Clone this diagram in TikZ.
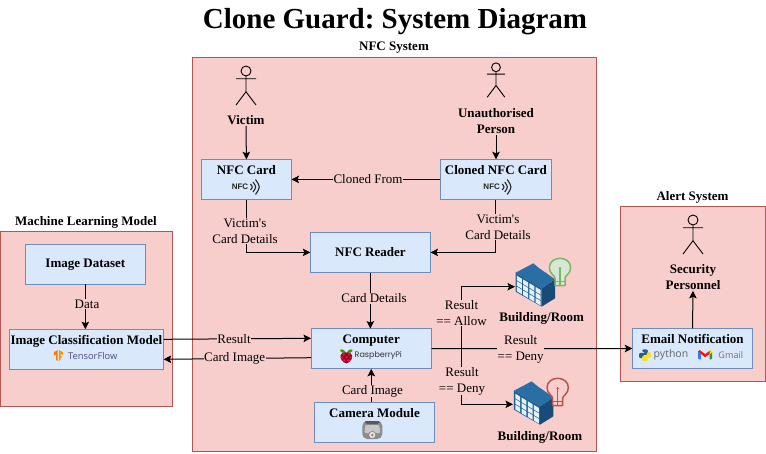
\documentclass[tikz,border=0pt]{standalone}
\usepackage{fontspec}
\setmainfont{Liberation Serif}[Ligatures=TeXOff]
\newfontfamily\liberasans{Liberation Sans}
\newfontfamily\opensansf{Open Sans}
\newfontfamily\poppinsf{Poppins}
\usetikzlibrary{arrows.meta,calc}
\definecolor{pinkfill}{HTML}{F8CECC}
\definecolor{pinkline}{HTML}{B85450}
\definecolor{bluefill}{HTML}{DAE8FC}
\definecolor{blueline}{HTML}{6C8EBF}
\definecolor{greenfill}{HTML}{D5E8D4}
\definecolor{greenline}{HTML}{82B366}
\definecolor{roofblue}{HTML}{2A6EA6}
\definecolor{faceblue}{HTML}{1F5F93}
\definecolor{sideblue}{HTML}{184B75}
\definecolor{winblue}{HTML}{E6F0F8}
\def\pxu{0.75pt}
\frenchspacing
\tikzset{
  region/.style={draw=pinkline,fill=pinkfill,line width=1*\pxu,inner sep=0pt,outer sep=0pt},
  bluebox/.style={draw=blueline,fill=bluefill,line width=1*\pxu,inner sep=0pt,outer sep=0pt,minimum width=#1*\pxu,minimum height=40.2*\pxu,align=center,font=\frenchspacing\fontsize{9.75}{14.5}\selectfont\bfseries},
  headtxt/.style={inner sep=1*\pxu,align=center,font=\frenchspacing\fontsize{9.75}{12}\selectfont\bfseries},
  edgetxt/.style={fill=pinkfill,inner sep=0.5*\pxu,align=center,font=\frenchspacing\fontsize{9.75}{12}\selectfont},
  conn/.style={line width=1*\pxu,black},
  arrowconn/.style={conn,-{Stealth[length=7.5*\pxu,width=7.5*\pxu,inset=1.5*\pxu]}},
  pics/actor/.style={code={
    \draw[line width=0.9*\pxu,black] (0,0) circle (5);
    \draw[line width=0.9*\pxu,black] (0,5) -- (0,20.7) (-10,7.7) -- (10,7.7) (-10,34) -- (0,20.7) -- (10,34);
  }},
  pics/nfclogo/.style={code={
    \node[inner sep=0pt,text=black!85,font=\fontsize{6}{7}\selectfont\liberasans\bfseries] (-t) at (0,0) {NFC};
    \draw[line width=1.1*\pxu,black!85] (10.5,-3) .. controls (12.8,0) .. (10.5,3);
    \draw[line width=1.1*\pxu,black!85] (13,-5) .. controls (16.5,0) .. (13,5);
    \draw[line width=1.1*\pxu,black!85] (15.5,-7.5) .. controls (20.5,0) .. (15.5,7.5);
  }},
  pics/building/.style={code={
    \begin{scope}[scale=1/3]
      \fill[sideblue] (125,115) -- (165,88) -- (165,145) -- (125,170) -- cycle;
      \fill[roofblue] (47,68) -- (100,40) -- (118,55) -- (140,70) -- (165,88) -- (125,115) -- cycle;
      \fill[faceblue] (47,68) -- (125,115) -- (125,170) -- (47,125) -- cycle;
      \foreach \i in {0,1,2,3} \foreach \j in {0,1,2} {
        \pgfmathsetmacro{\ua}{0.05+0.24*\i}
        \pgfmathsetmacro{\ub}{\ua+0.19}
        \pgfmathsetmacro{\va}{0.12+0.29*\j}
        \pgfmathsetmacro{\vb}{\va+0.24}
        \fill[winblue] ({47+78*\ua},{68+47*\ua+57*\va}) -- ({47+78*\ub},{68+47*\ub+57*\va}) -- ({47+78*\ub},{68+47*\ub+57*\vb}) -- ({47+78*\ua},{68+47*\ua+57*\vb}) -- cycle;
      }
    \end{scope}
  }},
  pics/bulb/.style 2 args={code={
    \begin{scope}[scale=1/3]
      \path[draw=#1,fill=#2,line width=1.5*\pxu,line join=round] (-15,30) .. controls (-15,22) and (-32,16) .. (-32,-2) .. controls (-32,-20) and (-16,-30) .. (0,-30) .. controls (16,-30) and (32,-20) .. (32,-2) .. controls (32,16) and (15,22) .. (15,30) -- (15,52) -- (-15,52) -- cycle;
      \draw[#1,line width=1.2*\pxu] (0,0) -- (0,52) (-15,40) -- (15,40);
      \fill[#1] (0,0) circle (4);
    \end{scope}
  }},
  pics/raspberry/.style={code={
    \fill[black!55!green!70!lime] (-0.3,-3.8) .. controls (-3,-8.5) and (-6.5,-7.5) .. (-6.2,-5.5) .. controls (-6,-4) and (-3,-3.5) .. (-0.3,-3.8) -- cycle;
    \fill[black!55!green!70!lime] (0.3,-3.8) .. controls (3,-8.5) and (6.5,-7.5) .. (6.2,-5.5) .. controls (6,-4) and (3,-3.5) .. (0.3,-3.8) -- cycle;
    \fill[black!30!red!85!blue] (0,-4) .. controls (7,-5) and (7.5,2) .. (3,5.5) .. controls (1.5,7.5) and (-1.5,7.5) .. (-3,5.5) .. controls (-7.5,2) and (-7,-5) .. (0,-4) -- cycle;
    \foreach \p in {(-2.6,-2.2),(2.6,-2.2),(-4.4,1),(0,0.5),(4.4,1),(-2.2,3.8),(2.2,3.8)}
      \fill[red!85!blue!90!white] \p circle (1.45);
  }},
  pics/pythonlogo/.style={code={
    \fill[blue!50!cyan!50!black!85,rounded corners=1.2*\pxu] (-2.8,-5.8) -- (2.8,-5.8) -- (2.8,-0.4) -- (-1.8,-0.4) -- (-1.8,3) -- (-5.8,3) -- (-5.8,-2.4) -- (0.4,-2.4) -- (0.4,-3.2) -- (-2.8,-3.2) -- cycle;
    \fill[yellow!85!orange,rounded corners=1.2*\pxu] (2.8,5.8) -- (-2.8,5.8) -- (-2.8,0.6) -- (1.8,0.6) -- (1.8,-3) -- (5.8,-3) -- (5.8,2.4) -- (-0.4,2.4) -- (-0.4,3.2) -- (2.8,3.2) -- cycle;
  }},
  pics/gmailm/.style={code={
    \fill[blue!65!cyan!80!white] (-7,-3.2) -- (-4.3,-1.2) -- (-4.3,4.7) -- (-6,4.7) -- (-7,3.8) -- cycle;
    \fill[green!55!black!85] (7,-3.2) -- (4.3,-1.2) -- (4.3,4.7) -- (6,4.7) -- (7,3.8) -- cycle;
    \fill[red!85!orange] (-7,-3.2) -- (-5.5,-4.7) -- (0,-0.6) -- (5.5,-4.7) -- (4.3,-0.8) -- (0,2.6) -- (-4.3,-0.8) -- cycle;
    \fill[yellow!80!orange] (4.3,-3.8) -- (5.5,-4.7) -- (7,-3.2) -- (7,-2.4) -- (4.3,-0.4) -- cycle;
  }},
  pics/tflogo/.style={code={
    \fill[orange!95!red] (-0.6,-5.5) -- (-4.5,-3.2) -- (-4.5,0.2) -- (-2.2,-1.2) -- (-2.2,4.4) -- (-0.6,5.5) -- cycle;
    \fill[orange!85!yellow] (0.6,-5.5) -- (4.5,-3.2) -- (4.5,-0.5) -- (2.2,-1.9) -- (2.2,0) -- (3.4,0.7) -- (3.4,2.5) -- (2.2,1.8) -- (2.2,4.4) -- (0.6,5.5) -- cycle;
  }},
  pics/cameraicon/.style={code={
    \fill[black!45,rounded corners=5*\pxu] (-10,-9) -- (10,-9) -- (10,9) -- (-10,9) -- cycle;
    \fill[black!65,rounded corners=2*\pxu] (-8,-9) -- (8,-9) -- (7,-6) -- (-7,-6) -- cycle;
    \fill[black!22,rounded corners=1*\pxu] (-7,-5) -- (7,-5) -- (8,3) -- (-8,3) -- cycle;
    \fill[black!8,draw=black!45,line width=0.8*\pxu] (0,5) circle (3.6);
    \fill[black!45] (0,5) circle (1.5);
  }}
}
\begin{document}
\begin{tikzpicture}[x=\pxu,y=-\pxu]
\useasboundingbox (0,0) rectangle (766,453);
\fill[white] (0,0) rectangle (766,453);

% title and regions
\node[inner sep=0pt,font=\frenchspacing\fontsize{21.75}{26}\selectfont\bfseries] (title) at (395,21.5) {Clone Guard: System Diagram};
\node[region,minimum width=403.7*\pxu,minimum height=393.7*\pxu] (nfcsys) at (394.2,254.2) {};
\node[region,minimum width=172.2*\pxu,minimum height=175*\pxu] (mlsys) at (86.6,319.2) {};
\node[region,minimum width=144.3*\pxu,minimum height=174.3*\pxu] (alertsys) at (692.9,293.9) {};
\node[headtxt] (nfctitle) at (394,48) {NFC System};
\node[headtxt] (mltitle) at (86,222.3) {Machine Learning Model};
\node[headtxt] (alerttitle) at (692.5,197.5) {Alert System};

% actors
\pic at (246,71) {actor};
\pic[scale=0.88] at (496,67.3) {actor};
\pic at (693,220) {actor};
\node[headtxt] (victim) at (246,120) {Victim};
\node[headtxt] (unauth) at (496,120.7) {Unauthorised\\Person};
\node[headtxt] (security) at (693,277) {Security\\Personnel};

% boxes
\node[bluebox=90.2] (nfccard) at (246.4,179.4) {NFC Card\\\mbox{}};
\node[bluebox=111.2] (cloned) at (495.9,179.4) {Cloned NFC Card\\\mbox{}};
\node[bluebox=120.2] (reader) at (370.4,252.4) {NFC Reader};
\node[bluebox=120.5] (computer) at (371.25,348.7) {Computer\\\mbox{}};
\node[bluebox=120.4] (camera) at (374.5,422.5) {Camera Module\\\mbox{}};
\node[bluebox=120.4] (email) at (692.5,348.5) {Email Notification\\\mbox{}};
\node[bluebox=120.7] (dataset) at (85.35,264.3) {\raisebox{-1pt}{Image Dataset}};
\node[bluebox=154.7] (classifier) at (86.35,349.3) {Image Classification Model\\\mbox{}};

% buildings
\pic at (500,250) {building};
\pic at (560,268.3) {bulb={greenline}{greenfill}};
\pic at (498.3,368) {building};
\pic at (557.7,388.3) {bulb={pinkline}{pinkfill}};
\node[headtxt] (roomA) at (541.7,318.2) {Building/Room};
\node[headtxt] (roomB) at (540,437) {Building/Room};
\coordinate (roomAin) at (515,286.7);
\coordinate (roomBin) at (513,404.3);
\coordinate (split) at (461.5,348.5);

% icons in boxes
\pic at (240,187) {nfclogo};
\pic at (491.7,187) {nfclogo};
\pic at (346.3,356.5) {raspberry};
\node[inner sep=0pt,text=black!80,font=\fontsize{6}{7}\selectfont\poppinsf] (rpitext) at (378.3,355.7) {RaspberryPi};
\pic at (372.3,430) {cameraicon};
\pic at (645,355.2) {pythonlogo};
\node[inner sep=0pt,text=black!60,font=\fontsize{7.9}{9}\selectfont\opensansf] (pytext) at (671,354.5) {python};
\pic at (705.2,354.7) {gmailm};
\node[inner sep=0pt,text=black!55,font=\fontsize{6.8}{8}\selectfont\opensansf] (gmailtext) at (730.8,355.5) {Gmail};
\pic at (58.3,355.5) {tflogo};
\node[inner sep=0pt,text=black!70!blue!70,font=\fontsize{7}{8}\selectfont\opensansf] (tftext) at (92.8,356) {TensorFlow};

% connectors
\draw[arrowconn] (victim.south) -- (nfccard.north);
\draw[arrowconn] (unauth.south) -- (unauth.south |- cloned.north);
\draw[arrowconn] (cloned.west) -- (nfccard.east);
\draw[arrowconn] (nfccard.south) |- (reader.west);
\draw[arrowconn] (cloned.south) |- (reader.east);
\draw[arrowconn] (reader.south) -- (reader.south |- computer.north);
\draw[arrowconn] (computer.east) -- (email.west);
\draw[arrowconn] (split) |- (roomAin);
\draw[arrowconn] (split) |- (roomBin);
\draw[arrowconn] (computer.south |- camera.north) -- (computer.south);
\draw[arrowconn] ($(classifier.east)+(0,-10)$) -- ($(computer.west)+(0,-10.4)$);
\draw[arrowconn] ($(computer.west)+(0,9)$) -- ($(classifier.east)+(0,10)$);
\draw[arrowconn] (dataset.south) -- (dataset.south |- classifier.north);
\draw[arrowconn] (email.north) -- (security.south);

% connector labels
\node[edgetxt] (lclone) at (368,179.3) {Cloned From};
\node[edgetxt] (lvictimA) at (245,231) {Victim's\\Card Details};
\node[edgetxt] (lvictimB) at (498,227) {Victim's\\Card Details};
\node[edgetxt] (ldetails) at (374,298.5) {Card Details};
\node[edgetxt] (ldeny) at (520.7,349.7) {Result\\== Deny};
\node[edgetxt] (lallow) at (461.5,312.7) {Result\\== Allow};
\node[edgetxt] (ldenyB) at (462,381) {Result\\== Deny};
\node[edgetxt] (lcardimg) at (372.5,391) {Card Image};
\node[edgetxt] (lresult) at (234,338.7) {Result};
\node[edgetxt] (lcardimgB) at (234.7,358.5) {Card Image};
\node[edgetxt] (ldata) at (87,304) {Data};
\end{tikzpicture}
\end{document}
